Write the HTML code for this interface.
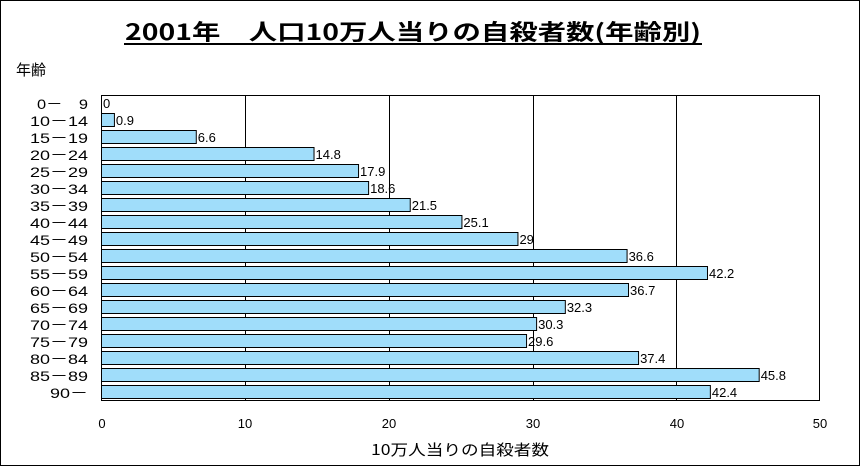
<!DOCTYPE html>
<html><head><meta charset="utf-8"><style>body{margin:0;background:#fff}svg{display:block}text{font-family:"Liberation Sans","Noto Sans CJK JP",sans-serif}.j{font-family:"Noto Sans CJK JP",sans-serif}</style></head><body>
<svg width="862" height="468" xmlns="http://www.w3.org/2000/svg">
<rect x="0.5" y="0.5" width="859" height="465" fill="#fff" stroke="#000"/>
<text class="j" x="413" y="40" font-size="22" font-weight="bold" text-anchor="middle" textLength="576" lengthAdjust="spacingAndGlyphs">2001年　人口10万人当りの自殺者数(年齢別)</text>
<line x1="124" y1="44" x2="702" y2="44" stroke="#000" stroke-width="2"/>
<text class="j" x="16" y="75" font-size="15">年齢</text>
<g stroke="#000" stroke-width="1">
<line x1="245.5" y1="95" x2="245.5" y2="401"/><line x1="389.5" y1="95" x2="389.5" y2="401"/><line x1="533.5" y1="95" x2="533.5" y2="401"/><line x1="676.5" y1="95" x2="676.5" y2="401"/>
</g>
<g id="bars" fill="#a0ddfa" stroke="#000" stroke-width="1"></g>
<rect x="101.5" y="95.5" width="718" height="305" fill="none" stroke="#000"/>
<g font-size="13" text-anchor="middle">
<text x="102" y="428">0</text><text x="245" y="428">10</text><text x="389" y="428">20</text><text x="533" y="428">30</text><text x="677" y="428">40</text><text x="820" y="428">50</text>
</g>
<text class="j" x="460" y="455" font-size="15" text-anchor="middle" textLength="178" lengthAdjust="spacingAndGlyphs">10万人当りの自殺者数</text>
<g id="labels" font-size="14"></g>
<g id="vals" font-size="13"></g>
</svg>
<script>
var L=["0－　9","10－14","15－19","20－24","25－29","30－34","35－39","40－44","45－49","50－54","55－59","60－64","65－69","70－74","75－79","80－84","85－89","90－"];
var V=[0,0.9,6.6,14.8,17.9,18.6,21.5,25.1,29,36.6,42.2,36.7,32.3,30.3,29.6,37.4,45.8,42.4];
var ns="http://www.w3.org/2000/svg",b=document.getElementById("bars"),l=document.getElementById("labels"),v=document.getElementById("vals");
for(var i=0;i<18;i++){var y=95+i*17;var w=V[i]*14.36;
if(w>0){var r=document.createElementNS(ns,"rect");r.setAttribute("x",101.5);r.setAttribute("y",y+1.5);r.setAttribute("width",w);r.setAttribute("height",13);b.appendChild(r);}
var len=i==0?51:(i==17?38:58);
var t=document.createElementNS(ns,"text");t.setAttribute("x",88-len);t.setAttribute("y",y+14);t.setAttribute("textLength",len);t.setAttribute("lengthAdjust","spacingAndGlyphs");t.textContent=L[i];l.appendChild(t);
var s=document.createElementNS(ns,"text");s.setAttribute("x",102+w+1);s.setAttribute("y",y+13);s.textContent=String(V[i]);v.appendChild(s);}
</script>
</body></html>
